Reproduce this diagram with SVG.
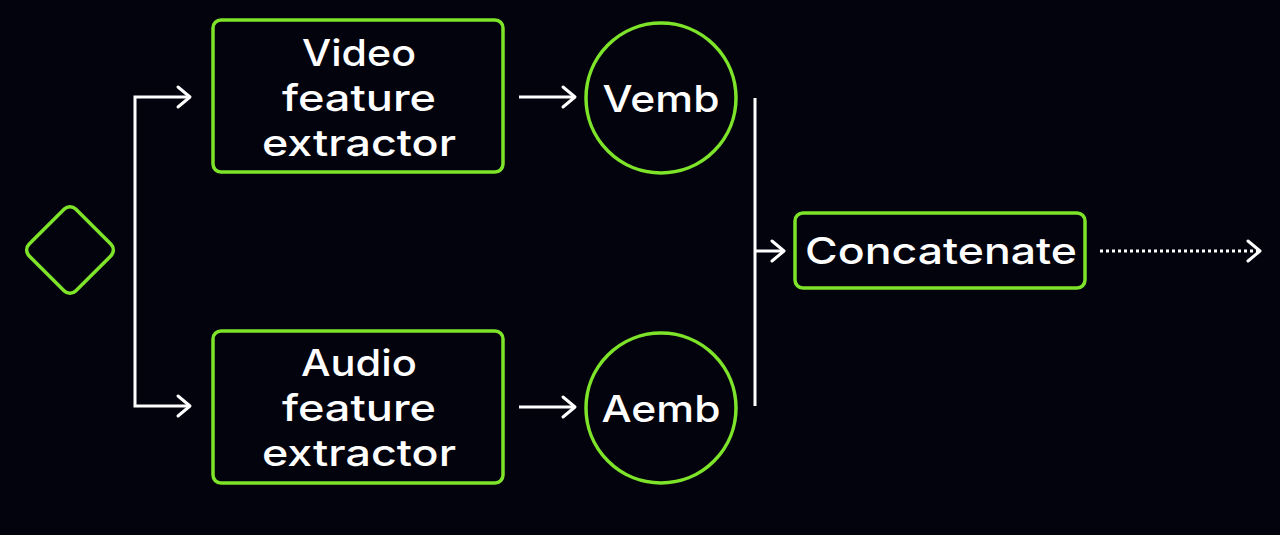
<svg xmlns="http://www.w3.org/2000/svg" width="1280" height="535" viewBox="0 0 1280 535">
<defs>
<style>
.node{fill:none;stroke:#7de42a;stroke-width:3.5}
.lbl{fill:#ffffff;font-family:Inter,"Noto Sans",sans-serif;font-size:37px;font-weight:500;text-anchor:middle;dominant-baseline:central}
.edge{fill:none;stroke:#ffffff;stroke-width:3}
.head{fill:none;stroke:#ffffff;stroke-width:3;stroke-linecap:round;stroke-linejoin:round}
</style>
</defs>
<rect width="1280" height="535" fill="#03030e"/>
<g id="start"><rect class="node" x="37" y="217" width="66" height="66" rx="8" transform="rotate(45 70 250)"/></g>
<g id="video"><rect class="node" x="213" y="20" width="290" height="152" rx="8"/>
<text class="lbl" x="359" y="52" textLength="114" lengthAdjust="spacingAndGlyphs">Video</text><text class="lbl" x="359" y="97" textLength="154" lengthAdjust="spacingAndGlyphs">feature</text><text class="lbl" x="359" y="142" textLength="194" lengthAdjust="spacingAndGlyphs">extractor</text></g>
<g id="audio"><rect class="node" x="213" y="331" width="290" height="152" rx="8"/>
<text class="lbl" x="359" y="362" textLength="116" lengthAdjust="spacingAndGlyphs">Audio</text><text class="lbl" x="359" y="407" textLength="154" lengthAdjust="spacingAndGlyphs">feature</text><text class="lbl" x="359" y="452" textLength="194" lengthAdjust="spacingAndGlyphs">extractor</text></g>
<g id="vemb"><circle class="node" cx="661" cy="98" r="75"/><text class="lbl" x="661" y="98" textLength="117" lengthAdjust="spacingAndGlyphs">Vemb</text></g>
<g id="aemb"><circle class="node" cx="661" cy="408" r="75"/><text class="lbl" x="661" y="408" textLength="119" lengthAdjust="spacingAndGlyphs">Aemb</text></g>
<g id="concat"><rect class="node" x="795" y="213" width="290" height="75" rx="8"/><text class="lbl" x="941" y="250" textLength="272" lengthAdjust="spacingAndGlyphs">Concatenate</text></g>
<g id="connectors">
<path class="edge" d="M190 97 H135 V406 H190"/>
<path class="head" d="M178 87 L190 97 L178 107"/>
<path class="head" d="M178 396 L190 406 L178 416"/>
<path class="edge" d="M519 97 H575"/><path class="head" d="M563 87 L575 97 L563 107"/>
<path class="edge" d="M519 407 H575"/><path class="head" d="M563 397 L575 407 L563 417"/>
<path class="edge" d="M755 98 V406"/>
<path class="edge" d="M755 251 H784"/><path class="head" d="M772 241 L784 251 L772 261"/>
<path class="edge" d="M1100 251 H1260" stroke-dasharray="3 3"/><path class="head" d="M1248 241 L1260 251 L1248 261"/>
</g>
</svg>
